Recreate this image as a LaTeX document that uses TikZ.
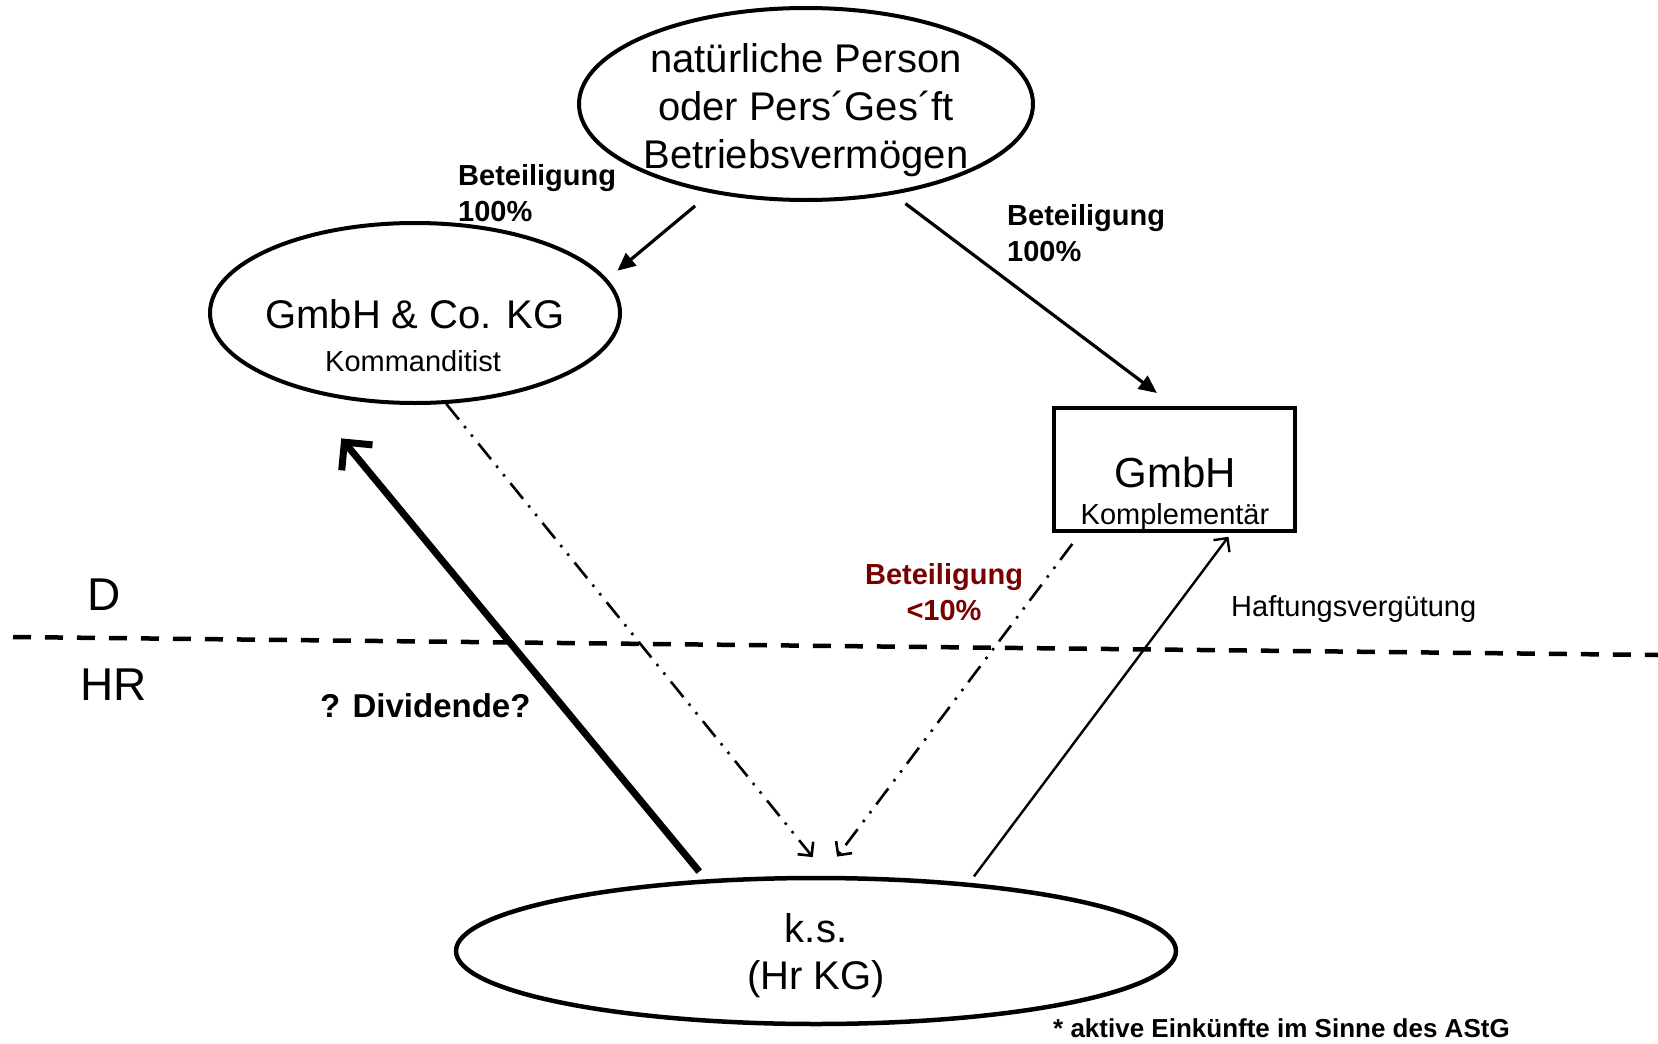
\documentclass[tikz,border=0pt]{standalone}
\usepackage{fontspec}
\setmainfont{Liberation Sans}
\usetikzlibrary{shapes.geometric,arrows.meta}
\definecolor{darkred}{RGB}{120,0,0}
\begin{document}
\begin{tikzpicture}[x=1pt,y=-1pt,
  ell/.style={ellipse, draw, line width=4pt, inner sep=0pt},
  bigtxt/.style={font=\fontsize{40}{48}\selectfont, inner sep=0pt},
  smalltxt/.style={font=\fontsize{29}{34}\selectfont, inner sep=0pt},
  lbl/.style={font=\bfseries\fontsize{29}{36}\selectfont, inner sep=0pt},
  ownarrow/.style={line width=3.2pt, -{Triangle[length=18pt,width=16pt]}},
  ddotarrow/.style={line width=2.6pt, dash pattern=on 20pt off 8.5pt on 2.5pt off 8.5pt on 2.5pt off 9pt, -{Straight Barb[length=10pt,width=20pt]}},
  heavyarrow/.style={line width=7pt, -{Straight Barb[length=20pt,width=40pt]}},
  lightarrow/.style={line width=2.4pt, -{Straight Barb[length=10pt,width=20pt]}},
  border/.style={line width=4.5pt, dash pattern=on 18pt off 14pt}
]
\useasboundingbox (0,0) rectangle (1658,1044);

% nodes
\node[ell, minimum width=454, minimum height=192] (top) at (806,104) {};
\node[bigtxt, align=center] (toptxt) at (806,110) {natürliche Person\\oder Pers´Ges´ft\\Betriebsvermögen};

\node[ell, minimum width=410, minimum height=180] (gco) at (415,313) {};
\node[bigtxt, anchor=base] (gcot) at (415,328) {GmbH \& Co. KG};
\node[smalltxt, anchor=base] (gcos) at (413,371) {Kommanditist};

\node[draw, line width=3.5pt, minimum width=241, minimum height=123, inner sep=0pt] (box) at (1174.5,469.5) {};
\node[font=\fontsize{42}{50}\selectfont, anchor=base, inner sep=0pt] (boxt) at (1175,487) {GmbH};
\node[smalltxt, anchor=base] (boxs) at (1175,524) {Komplementär};

\node[ell, line width=4.5pt, minimum width=720, minimum height=146] (ks) at (816,951) {};
\node[align=center, inner sep=0pt, font=\fontsize{40}{47}\selectfont] (kstxt) at (816,956) {k.s.\\(Hr KG)};

% labels
\node[lbl, anchor=north west, align=left] (l1) at (458,164) {Beteiligung\\100\%};
\node[lbl, anchor=north west, align=left] (l2) at (1007,204) {Beteiligung\\100\%};
\node[lbl, anchor=north, align=center, text=darkred] (l3) at (944,563) {Beteiligung\\<10\%};
\node[smalltxt, anchor=base west] (haft) at (1231,616) {Haftungsvergütung};
\node[font=\bfseries\fontsize{33}{40}\selectfont, anchor=base west, inner sep=0pt] (div) at (320,717) {? Dividende?};
\node[font=\fontsize{46}{55}\selectfont, anchor=base west, inner sep=0pt] (D) at (87,610) {D};
\node[font=\fontsize{46}{55}\selectfont, anchor=base west, inner sep=0pt] (HR) at (80,700) {HR};
\node[font=\bfseries\fontsize{26}{31}\selectfont, anchor=base west, inner sep=0pt] (foot) at (1053,1037) {* aktive Einkünfte im Sinne des AStG};

% border line
\coordinate (dl) at (13,637);
\coordinate (dr) at (1658,655);
\draw[border] (dl) -- (dr);

% connectors
\draw[ownarrow, shorten <=20pt, shorten >=13pt] (top.223) -- (gco.10);
\draw[ownarrow, shorten <=15pt, shorten >=22pt] (top.314) -- (box.north);
\draw[heavyarrow, shorten <=10pt, shorten >=63pt] (ks.147) -- (gco.214);
\draw[ddotarrow, shorten >=24pt] (gco.289) -- (ks.81);
\draw[ddotarrow, shorten <=14pt, shorten >=24pt] (box.214) -- (ks.85);
\draw[lightarrow, shorten <=8pt, shorten >=5pt] (ks.24) -- (box.312);
\end{tikzpicture}
\end{document}
